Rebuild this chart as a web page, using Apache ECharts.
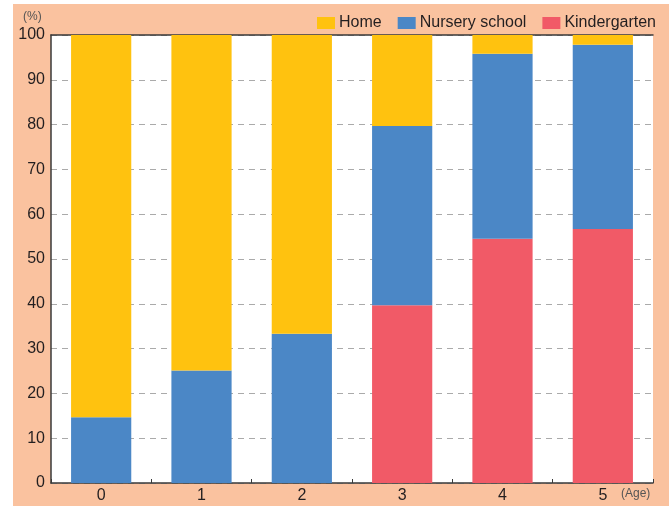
<!DOCTYPE html>
<html>
<head>
<meta charset="utf-8">
<script src="https://cdn.jsdelivr.net/npm/echarts@6/dist/echarts.min.js"></script>
<style>
html,body{margin:0;padding:0;background:#ffffff;}
#wrap{position:absolute;left:13px;top:4px;width:656px;height:502px;background:#FAC29F;}
#chart{position:absolute;left:0;top:0;width:669px;height:506px;}
</style>
</head>
<body>
<div id="wrap"></div>
<div id="chart"></div>
<script>
var categories = ['0', '1', '2', '3', '4', '5'];
var kindergarten = [0, 0, 0, 39.7, 54.5, 56.7];
var nursery = [14.7, 25.1, 33.3, 40.0, 41.3, 41.1];
var home = [85.3, 74.9, 66.7, 20.3, 4.2, 2.2];
var yTicks = [0, 10, 20, 30, 40, 50, 60, 70, 80, 90, 100];

var chart = echarts.init(document.getElementById('chart'), null, {renderer: 'canvas'});
var FONT = 'Liberation Sans, Arial, sans-serif';
var option = {
  backgroundColor: 'transparent',
  animation: false,
  textStyle: {fontFamily: FONT},
  legend: {
    data: ['Home', 'Nursery school', 'Kindergarten'],
    right: 13,
    top: 15,
    itemWidth: 18,
    itemHeight: 12,
    itemGap: 16,
    padding: 0,
    icon: 'rect',
    textStyle: {fontSize: 16, color: '#231f20', fontFamily: FONT, padding: [0, 0, 0, -1]}
  },
  grid: {left: 51, right: 16, top: 35, bottom: 23, containLabel: false, show: true, backgroundColor: '#ffffff', borderWidth: 0},
  graphic: [
    {type: 'text', left: 23, top: 11, style: {text: '(%)', fontSize: 12, fill: '#555', fontFamily: FONT}},
    {type: 'text', left: 621, top: 488, style: {text: '(Age)', fontSize: 12, fill: '#555', fontFamily: FONT}}
  ],
  xAxis: [{
    type: 'category',
    data: categories,
    position: 'bottom',
    axisLine: {show: true, lineStyle: {color: '#3a3a3a', width: 1.5}},
    axisTick: {show: true, inside: true, length: 4, lineStyle: {color: '#3a3a3a', width: 1}},
    axisLabel: {fontSize: 16, color: '#231f20', margin: 5, fontFamily: FONT}
  }, {
    type: 'category',
    data: categories,
    position: 'top',
    axisLine: {show: true, lineStyle: {color: '#3a3a3a', width: 1.5}},
    axisTick: {show: false},
    axisLabel: {show: false}
  }],
  yAxis: {
    type: 'value',
    min: yTicks[0],
    max: yTicks[yTicks.length - 1],
    interval: 10,
    axisLine: {show: true, lineStyle: {color: '#3a3a3a', width: 1.5}},
    axisTick: {show: false},
    axisLabel: {fontSize: 16, color: '#231f20', margin: 6, fontFamily: FONT},
    splitLine: {show: true, lineStyle: {color: '#aaaaaa', type: [6, 5], width: 1}}
  },
  series: [
    {name: 'Kindergarten', type: 'bar', stack: 'a', data: kindergarten, barWidth: '60%', itemStyle: {color: '#F15A67'}},
    {name: 'Nursery school', type: 'bar', stack: 'a', data: nursery, barWidth: '60%', itemStyle: {color: '#4B87C6'}},
    {name: 'Home', type: 'bar', stack: 'a', data: home, barWidth: '60%', itemStyle: {color: '#FFC20F'}}
  ]
};
chart.setOption(option);
</script>
</body>
</html>
